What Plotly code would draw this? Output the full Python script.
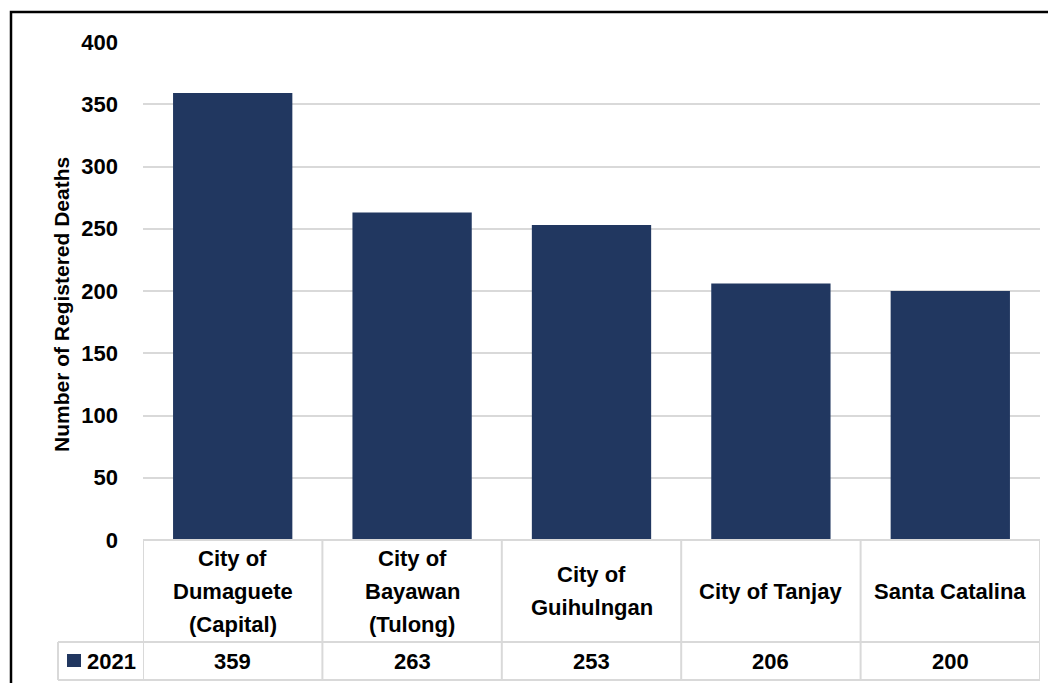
import plotly.graph_objects as go

categories = ["City of<br>Dumaguete<br>(Capital)", "City of<br>Bayawan<br>(Tulong)",
              "City of<br>Guihulngan", "City of Tanjay", "Santa Catalina"]
series_name = "2021"
deaths_2021 = [359, 263, 253, 206, 200]
y_ticks = [0, 50, 100, 150, 200, 250, 300, 350, 400]

W, H = 1056, 683
OFF = 8  # page body margin
FONT = "Liberation Sans, Arial, sans-serif"
BAR = "#213760"
GRID = "#d9d9d9"

def px(x):
    return (x - OFF) / W

def py(y):
    return 1 - (y - OFF) / H

x0p, x1p = 143, 1040
y_top, y_zero = 42, 540
hdr_bot, row_bot = 642, 680
leg_left = 58

fig = go.Figure()
fig.add_trace(go.Bar(
    x=list(range(len(categories))), y=deaths_2021, name=series_name,
    marker=dict(color=BAR, line=dict(width=0)), width=0.665,
))

n = len(categories)
fig.update_layout(
    width=W, height=H,
    margin=dict(l=0, r=0, t=0, b=0, pad=0),
    paper_bgcolor="white", plot_bgcolor="white",
    showlegend=False,
    font=dict(family=FONT, color="black"),
    xaxis=dict(domain=[px(x0p), px(x1p)], range=[-0.5, n - 0.5], automargin=False,
               showticklabels=False, showgrid=False, zeroline=False, showline=False),
    yaxis=dict(domain=[py(y_zero), py(y_top)], range=[0, 400], automargin=False,
               tickvals=y_ticks, showgrid=True, gridcolor=GRID, gridwidth=1.5,
               zeroline=False, showline=False, ticks="",
               tickfont=dict(size=22, family=FONT, color="black", weight="bold"),
               ticklabelstandoff=24),
)

shapes = []
line = dict(color=GRID, width=2)
shapes.append(dict(type="line", xref="paper", yref="paper",
                   x0=px(x0p), x1=px(x1p), y0=py(y_zero), y1=py(y_zero), line=line))
shapes.append(dict(type="line", xref="paper", yref="paper",
                   x0=px(leg_left), x1=px(x1p), y0=py(hdr_bot), y1=py(hdr_bot), line=line))
shapes.append(dict(type="line", xref="paper", yref="paper",
                   x0=px(leg_left), x1=px(x1p), y0=py(row_bot), y1=py(row_bot), line=line))
for i in range(n + 1):
    shapes.append(dict(type="line", xref="x", yref="paper",
                       x0=i - 0.5, x1=i - 0.5, y0=py(row_bot), y1=py(y_zero), line=line))
shapes.append(dict(type="line", xref="paper", yref="paper",
                   x0=px(leg_left), x1=px(leg_left), y0=py(row_bot), y1=py(hdr_bot), line=line))
shapes.append(dict(type="rect", xref="paper", yref="paper",
                   x0=px(67), x1=px(81), y0=py(667), y1=py(654),
                   fillcolor=BAR, line=dict(width=0)))
shapes.append(dict(type="rect", xref="paper", yref="paper",
                   x0=px(11), x1=px(W + 20), y0=py(H + 20), y1=py(12),
                   fillcolor="rgba(0,0,0,0)", line=dict(color="black", width=2.5)))

LBL = dict(size=22, family=FONT, color="black", weight="bold")
ann = []
hdr_mid = (y_zero + hdr_bot) / 2
spacing = 33
for i, (c, v) in enumerate(zip(categories, deaths_2021)):
    lines = c.split("<br>")
    k = len(lines)
    for j, t in enumerate(lines):
        yy = hdr_mid + (j - (k - 1) / 2) * spacing
        ann.append(dict(x=i, y=py(yy), xref="x", yref="paper",
                        text=t, showarrow=False, xanchor="center", yanchor="middle",
                        font=LBL))
    ann.append(dict(x=i, y=py((hdr_bot + row_bot) / 2), xref="x", yref="paper",
                    text=str(v), showarrow=False, xanchor="center", yanchor="middle",
                    font=LBL))
ann.append(dict(x=px(85), y=py((hdr_bot + row_bot) / 2), xref="paper", yref="paper",
                text=series_name, showarrow=False, xanchor="left", yanchor="middle",
                font=LBL))
ann.append(dict(x=px(62), y=py(305), xref="paper", yref="paper",
                text="Number of Registered Deaths", textangle=-90, showarrow=False,
                xanchor="center", yanchor="middle",
                font=dict(size=21, family=FONT, color="black", weight="bold")))

fig.update_layout(shapes=shapes, annotations=ann)
fig.write_html("out.html")
